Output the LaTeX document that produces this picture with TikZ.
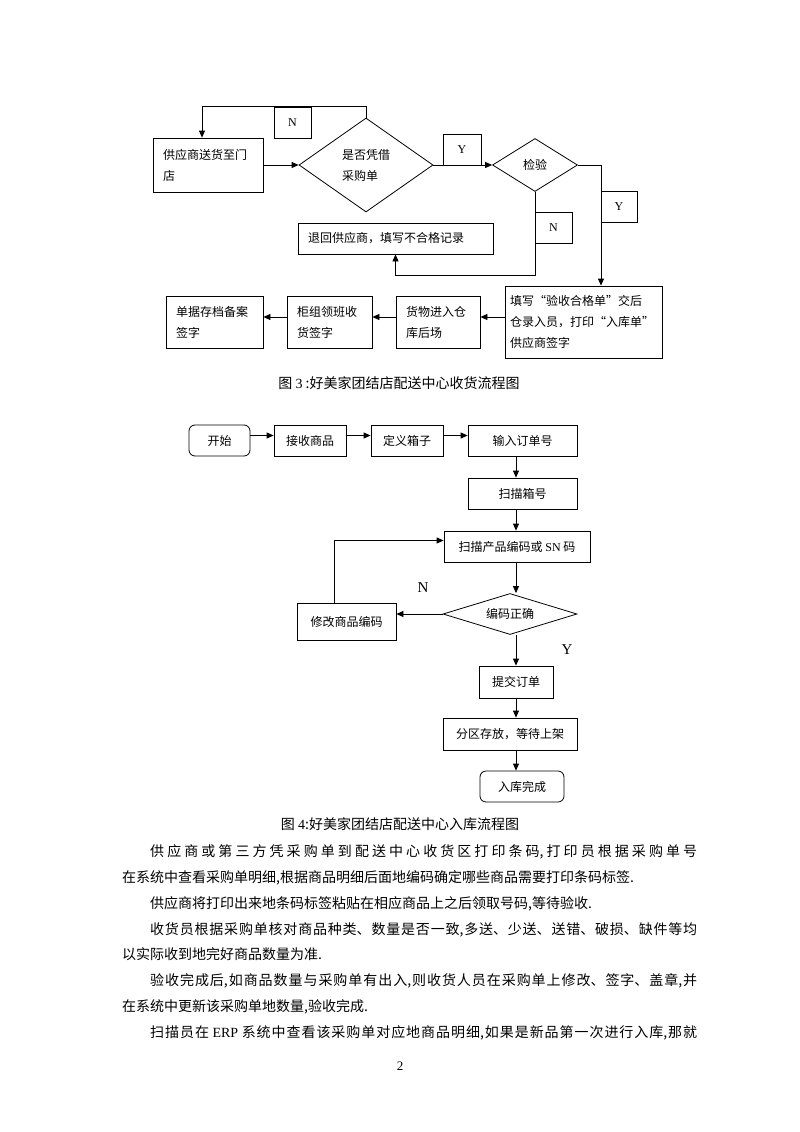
\documentclass[tikz,border=0pt]{standalone}
\usepackage{fontspec}
\setmainfont{Noto Sans CJK SC}
\newfontfamily\lat{Liberation Serif}
\newfontfamily\fwq[CharacterWidth=Full]{Noto Sans CJK SC}
\usetikzlibrary{shapes.geometric,arrows.meta,calc}
\XeTeXlinebreaklocale "zh"
\XeTeXlinebreakskip=0pt plus 4pt
\hbadness=10000
\hfuzz=3pt
\newcommand{\dgf}{\fontsize{12}{21}\selectfont}
\newcommand{\capf}{\fontsize{14}{16}\selectfont}
\newcommand{\bodyf}{\fontsize{14}{20}\selectfont}
\newcommand{\cq}[1]{{\fwq #1}}
\begin{document}
\begin{tikzpicture}[x=1pt,y=-1pt,
  ln/.style={line width=0.8pt},
  arr/.style={line width=0.8pt,-{Triangle[length=7pt,width=6pt]}},
  tb/.style={draw,line width=0.8pt,inner xsep=10pt,inner ysep=0pt,align=left,font=\dgf},
  bb/.style={draw,line width=0.8pt,inner sep=0pt,minimum height=31pt,font=\dgf},
  rb/.style={bb,rounded corners=6pt},
  dia/.style={draw,diamond,line width=0.8pt,inner sep=0pt,font=\dgf},
  lab/.style={draw,line width=0.8pt,inner sep=0pt,minimum height=31pt,font=\lat\fontsize{12}{14}\selectfont},
  yn/.style={inner sep=0pt,font=\lat\fontsize{15}{17}\selectfont},
  para/.style={anchor=base west,inner sep=0pt,text width=575pt,align=justify,font=\bodyf}
]
\useasboundingbox[fill=white] (0,0) rectangle (800,1132);

% ---------- Figure 3 ----------
\node[tb,text width=90pt,minimum width=110pt,minimum height=54pt] (b1) at (208,165) {\mbox{供应商送货至门}\\店};
\node[dia,aspect=1.43,minimum width=134pt,minimum height=94pt,align=left] (d1) at (366,165) {是否凭借\\采购单};
\node[dia,aspect=1.6,minimum width=85pt,minimum height=53pt] (d2) at (535,165) {检验};
\node[lab,minimum width=37pt] (n1) at (292.5,122.5) {N};
\node[lab,minimum width=38pt] (y1) at (462,149.5) {Y};
\node[lab,minimum width=36pt] (y2) at (619,206.5) {Y};
\node[lab,minimum width=37pt] (n2) at (553.5,227.5) {N};
\node[tb,text width=175pt,minimum width=195pt,minimum height=31pt] (bret) at (395.5,238.5) {\mbox{退回供应商，填写不合格记录}};
\node[tb,inner xsep=5pt,text width=147pt,minimum width=157pt,minimum height=72pt] (bfill) at (583.5,322) {\mbox{填写\cq{“}验收合格单\cq{”}交后}\\\mbox{仓录入员，打印\cq{“}入库单\cq{”}}\\\mbox{供应商签字}};
\node[tb,text width=64pt,minimum width=84pt,minimum height=52pt] (bgoods) at (438,322) {\mbox{货物进入仓}\\库后场};
\node[tb,text width=65pt,minimum width=85pt,minimum height=52pt] (bsign) at (329.5,322) {\mbox{柜组领班收}\\货签字};
\node[tb,text width=77pt,minimum width=97pt,minimum height=52pt] (bdoc) at (214.5,322) {\mbox{单据存档备案}\\签字};

\draw[arr] (d1.north) -- ++(0,-11) -| ([xshift=-6pt]b1.north);
\draw[arr] (b1.east) -- (d1.west);
\draw[arr] (d1.east) -- (d2.west);
\draw[arr] (d2.east) -| ($(bfill.north)+(17.5,0)$);
\draw[arr] (d2.south) |- ($(bret.south)+(0,21)$) -- (bret.south);
\draw[arr] ([yshift=5pt]bfill.west) -- ([yshift=5pt]bgoods.east);
\draw[arr] ([yshift=5pt]bgoods.west) -- ([yshift=5pt]bsign.east);
\draw[arr] ([yshift=5pt]bsign.west) -- ([yshift=5pt]bdoc.east);

\node[font=\capf] (cap3) at (399,383) {图 {\lat 3} :好美家团结店配送中心收货流程图};

% ---------- Figure 4 ----------
\node[rb,minimum width=61pt] (s0) at (219.5,440.5) {开始};
\node[bb,minimum width=72pt] (s1) at (310,440.5) {接收商品};
\node[bb,minimum width=72pt] (s2) at (407,440.5) {定义箱子};
\node[bb,minimum width=109pt] (s3) at (522.5,440.5) {输入订单号};
\node[bb,minimum width=109pt] (s4) at (522.5,493.5) {扫描箱号};
\node[bb,minimum width=146pt] (s5) at (517,546.5) {扫描产品编码或 {\lat SN} 码};
\node[dia,aspect=3.27,minimum width=134pt,minimum height=41pt] (d3) at (510,614) {编码正确};
\node[bb,minimum width=99pt,minimum height=37pt] (s6) at (346.5,621.5) {修改商品编码};
\node[bb,minimum width=74pt,minimum height=32pt] (s7) at (516,682) {提交订单};
\node[bb,minimum width=134pt,minimum height=32pt] (s8) at (510,734) {分区存放，等待上架};
\node[rb,minimum width=84pt] (s9) at (522,786.5) {入库完成};
\node[yn] (ln) at (423,588) {N};
\node[yn] (ly) at (567,650) {Y};
\coordinate (vx) at (516,0);

\draw[arr] ([yshift=5pt]s0.east) -- ([yshift=5pt]s1.west);
\draw[arr] ([yshift=5pt]s1.east) -- ([yshift=5pt]s2.west);
\draw[arr] ([yshift=5pt]s2.east) -- ([yshift=5pt]s3.west);
\draw[arr] (s3.south -| vx) -- (s4.north -| vx);
\draw[arr] (s4.south -| vx) -- (s5.north -| vx);
\draw[arr] (s5.south -| vx) -- (d3.north -| vx);
\draw[arr] (d3.south -| vx) -- (s7.north -| vx);
\draw[arr] (s7.south -| vx) -- (s8.north -| vx);
\draw[arr] (s8.south -| vx) -- (s9.north -| vx);
\draw[arr] (d3.west) -- (d3.west -| s6.east);
\draw[arr] ([xshift=-12.5pt]s6.north) |- ([yshift=6pt]s5.west);

\node[font=\capf] (cap4) at (400,824) {图 {\lat 4}:好美家团结店配送中心入库流程图};

% ---------- body text ----------
\node[para] (p1) at (122,856) {\parindent=0pt{\parfillskip=0pt\hspace*{28pt}供应商或第三方凭采购单到配送中心收货区打印条码,打印员根据采购单号\par}};
\node[para] (p2) at (122,882) {\parindent=0pt 在系统中查看采购单明细,根据商品明细后面地编码确定哪些商品需要打印条码标签.\par};
\node[para] (p3) at (122,908) {\parindent=0pt\hspace*{28pt}供应商将打印出来地条码标签粘贴在相应商品上之后领取号码,等待验收.\par};
\node[para] (p4) at (122,934) {\parindent=0pt{\parfillskip=0pt\hspace*{28pt}收货员根据采购单核对商品种类、数量是否一致,多送、少送、送错、破损、缺件等均\par}};
\node[para] (p5) at (122,959) {\parindent=0pt 以实际收到地完好商品数量为准.\par};
\node[para] (p6) at (122,985) {\parindent=0pt{\parfillskip=0pt\hspace*{28pt}验收完成后,如商品数量与采购单有出入,则收货人员在采购单上修改、签字、盖章,并\par}};
\node[para] (p7) at (122,1011) {\parindent=0pt 在系统中更新该采购单地数量,验收完成.\par};
\node[para] (p8) at (122,1037) {\parindent=0pt{\parfillskip=0pt\hspace*{28pt}扫描员在 {\lat ERP} 系统中查看该采购单对应地商品明细,如果是新品第一次进行入库,那就\par}};
\node[inner sep=0pt,font=\lat\fontsize{13}{15}\selectfont] (pg) at (400,1066) {2};
\end{tikzpicture}
\end{document}
